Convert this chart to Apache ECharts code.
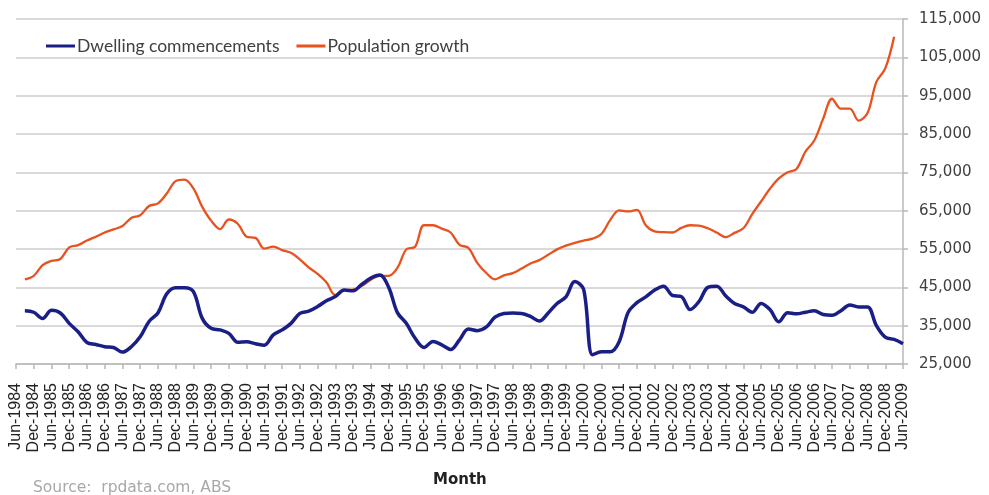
<!DOCTYPE html>
<html>
<head>
<meta charset="utf-8">
<script src="https://cdn.jsdelivr.net/npm/echarts@6/dist/echarts.min.js"></script>
<style>html,body{margin:0;padding:0;background:#fff;}#c{width:989px;height:495px;}</style>
</head>
<body>
<div id="c"></div>
<script>
// Quarterly categories, Jun-1984 .. Jun-2009
var categories = [
"Jun-1984","Sep-1984","Dec-1984","Mar-1985","Jun-1985","Sep-1985","Dec-1985","Mar-1986",
"Jun-1986","Sep-1986","Dec-1986","Mar-1987","Jun-1987","Sep-1987","Dec-1987","Mar-1988",
"Jun-1988","Sep-1988","Dec-1988","Mar-1989","Jun-1989","Sep-1989","Dec-1989","Mar-1990",
"Jun-1990","Sep-1990","Dec-1990","Mar-1991","Jun-1991","Sep-1991","Dec-1991","Mar-1992",
"Jun-1992","Sep-1992","Dec-1992","Mar-1993","Jun-1993","Sep-1993","Dec-1993","Mar-1994",
"Jun-1994","Sep-1994","Dec-1994","Mar-1995","Jun-1995","Sep-1995","Dec-1995","Mar-1996",
"Jun-1996","Sep-1996","Dec-1996","Mar-1997","Jun-1997","Sep-1997","Dec-1997","Mar-1998",
"Jun-1998","Sep-1998","Dec-1998","Mar-1999","Jun-1999","Sep-1999","Dec-1999","Mar-2000",
"Jun-2000","Sep-2000","Dec-2000","Mar-2001","Jun-2001","Sep-2001","Dec-2001","Mar-2002",
"Jun-2002","Sep-2002","Dec-2002","Mar-2003","Jun-2003","Sep-2003","Dec-2003","Mar-2004",
"Jun-2004","Sep-2004","Dec-2004","Mar-2005","Jun-2005","Sep-2005","Dec-2005","Mar-2006",
"Jun-2006","Sep-2006","Dec-2006","Mar-2007","Jun-2007","Sep-2007","Dec-2007","Mar-2008",
"Jun-2008","Sep-2008","Dec-2008","Mar-2009","Jun-2009"
];

var dwellingCommencements = [
null,38900,38500,36900,39000,38300,35600,33400,30600,30100,29500,29300,28100,29500,32100,36100,
38300,43300,44900,44900,43900,36900,34300,33900,33000,30700,30800,30300,29900,32600,33900,35600,
38200,38800,40000,41500,42600,44300,44100,45800,47400,48200,45100,38400,35600,31700,29300,30900,
30000,28800,31300,34100,33700,34600,37200,38200,38300,38200,37400,36200,38300,40800,42500,46500,
44400,27400,28200,28200,30800,38400,41000,42500,44300,45300,42900,42600,39200,41300,45000,45300,
42800,40800,39900,38500,40800,39200,36000,38400,38100,38500,38900,37900,37700,38900,40400,39900,
39900,35000,32000,31400,30300
];

var populationGrowth = [
null,47100,48000,50800,51900,52400,55400,56000,57200,58200,59300,60100,61000,63100,63800,66200,
66900,69500,72700,73100,70800,66000,62400,60200,62700,61600,58200,57900,55100,55600,54700,54000,
52300,50200,48500,46300,43000,44300,44400,45400,47000,48000,48000,50100,54900,55600,61200,61200,
60300,59300,56100,55300,51400,48800,47100,48100,48700,49900,51200,52100,53500,54900,55900,56600,
57200,57700,58900,62600,65100,64800,65200,61200,59600,59400,59300,60500,61200,61100,60400,59300,
58100,59200,60400,64100,67400,70700,73400,75000,75900,80400,83300,89000,94200,91600,91600,88500,
90500,98600,102100,110400,null
];

var yMin = 25000, yMax = 115000, yStep = 10000;

var chart = echarts.init(document.getElementById('c'), null, {renderer: 'canvas'});
chart.setOption({
  animation: false,
  backgroundColor: '#ffffff',
  grid: {left: 16, right: 86, top: 19, bottom: 131, containLabel: false},
  legend: {
    left: 41, top: 32,
    itemWidth: 29, itemHeight: 3, itemGap: 17,
    textStyle: {fontFamily: 'Lato', fontSize: 17.5, color: '#404040', padding: [0,0,0,-3]},
    data: [
      {name: 'Dwelling commencements', icon: 'rect', itemStyle: {color: '#1a1f86'}},
      {name: 'Population growth', icon: 'rect', itemStyle: {color: '#e8521f'}}
    ]
  },
  xAxis: {
    type: 'category',
    data: categories,
    boundaryGap: false,
    axisLine: {show: true, lineStyle: {color: '#b8b8b8', width: 1.5}},
    axisTick: {show: true, interval: 1, length: 5, lineStyle: {color: '#b8b8b8', width: 1.5}},
    axisLabel: {
      interval: 1, rotate: 90, margin: 19,
      fontFamily: 'Liberation Sans', fontSize: 16, color: '#222'
    },
    splitLine: {show: false}
  },
  yAxis: {
    type: 'value',
    position: 'right',
    min: yMin, max: yMax, interval: yStep,
    axisLine: {show: true, lineStyle: {color: '#b8b8b8', width: 1.5}},
    axisTick: {show: true, length: 5, lineStyle: {color: '#b8b8b8', width: 1.5}},
    axisLabel: {
      margin: 16,
      fontFamily: 'DejaVu Sans', fontSize: 15, color: '#404040',
      formatter: function (v) { return v.toLocaleString('en-US'); }
    },
    splitLine: {show: true, lineStyle: {color: '#cccccc', width: 1.5}}
  },
  series: [
    {
      name: 'Dwelling commencements', type: 'line', data: dwellingCommencements,
      symbol: 'none', smooth: 0.35, connectNulls: false,
      lineStyle: {color: '#1a1f86', width: 3.5}, itemStyle: {color: '#1a1f86'}, z: 3
    },
    {
      name: 'Population growth', type: 'line', data: populationGrowth,
      symbol: 'none', smooth: 0.35, connectNulls: false,
      lineStyle: {color: '#e8521f', width: 2.3}, itemStyle: {color: '#e8521f'}, z: 2
    }
  ],
  graphic: [
    {type: 'text', left: 433, top: 473, style: {text: 'Month', font: 'bold 15px "DejaVu Sans"', fill: '#222'}},
    {type: 'text', left: 33, top: 480, style: {text: 'Source:  rpdata.com, ABS', font: '15.5px "DejaVu Sans"', fill: '#a8a8a8'}}
  ]
});
</script>
</body>
</html>
